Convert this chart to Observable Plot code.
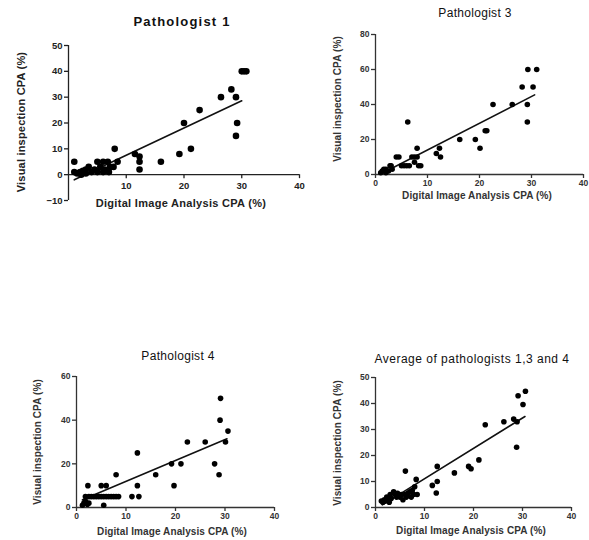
<!DOCTYPE html>
<html><head><meta charset="utf-8">
<script src="https://cdn.jsdelivr.net/npm/d3@7"></script>
<script src="https://cdn.jsdelivr.net/npm/@observablehq/plot@0.6"></script>
<style>
body{margin:0;background:#fff;}
#wrap{position:relative;width:589px;height:540px;overflow:hidden;font-family:"Liberation Sans",Arial,sans-serif;background:#fff;}
.lbl{position:absolute;white-space:nowrap;transform:translate(-50%,-50%);color:#222;font-weight:bold;}
.ylbl{transform:translate(-50%,-50%) rotate(-90deg);}
#wrap svg{position:absolute;overflow:visible;background:transparent;}
</style></head><body><div id="wrap"></div>
<script>
// ---------- Data ----------
const titles = ["Pathologist 1", "Pathologist 3", "Pathologist 4", "Average of pathologists 1,3 and 4"];
const xLabel = "Digital Image Analysis CPA (%)";
const yLabel = "Visual inspection CPA (%)";

// Pathologist 1
const p1X = [1,1,1.5,2,2.2,2.5,3,3,3.5,4,4.5,5,5,5.5,6,6,6.3,6.8,7,7.2,7.8,8,8.5,11.5,12.3,12.3,12.3,16,19.2,20,21.2,22.7,26.4,28.2,29,29.2,29,30,30.4,30.8];
const p1Y = [5,1,0.5,1,0,1.5,2,0.5,3,1,2,5,1,3,5,1,2,5,1,3,3,10,5,8,7,5,2,5,8,20,10,25,30,33,30,20,15,40,40,40];
const p1FitX = [1, 30];
const p1FitY = [-2, 28.6];
const p1XTicks = [10,20,30,40];
const p1YTicks = [-10,0,10,20,30,40,50];

// Pathologist 3
const p3X = [1,1.3,1.6,2,2,2.5,2.8,3,3.2,4,4.5,5,5.5,6,6.2,6.5,7,7.5,7.5,8,8,8.3,8.7,11.7,12.3,12.5,16.2,19.2,20.1,21.1,21.4,22.6,26.3,28.2,29.2,29.2,29.3,30.3,31];
const p3Y = [1,2,3,1,3,2,5,5,3,10,10,5,5,5,30,5,10,10,7,15,10,5,5,12,15,10,20,20,15,25,25,40,40,50,40,30,60,50,60];
const p3FitX = [1, 30.6];
const p3FitY = [0.3, 45.5];
const p3XTicks = [0,10,20,30,40];
const p3YTicks = [0,20,40,60,80];

// Pathologist 4
const p4X = [1.2,1.5,1.8,2,2.2,2.5,1.8,2.5,3,3.5,4,4.5,5,5.5,6,6.5,7,7.5,8,8.5,2.3,5,6,5.5,8,11.2,12.6,12.3,12.3,16,19.2,19.7,21.1,22.4,26,27.9,28.8,29.1,29,30.1,30.6];
const p4Y = [1,2,3,2,1.5,2,5,5,5,5,5,5,5,5,5,5,5,5,5,5,10,10,10,1,15,5,5,10,25,15,20,10,20,30,30,20,15,50,40,30,35];
const p4FitX = [1.2, 30.4];
const p4FitY = [3.5, 31.5];
const p4XTicks = [0,10,20,30,40];
const p4YTicks = [0,20,40,60];

// Average of pathologists 1, 3 and 4
const avX = [1.2,1.5,1.8,2,2.3,2.5,2.8,3,3.2,3.7,4,4.3,4.5,5,5.3,5.6,6,6.3,6.6,7,7.3,7.5,7.8,8,8.5,8.3,6.1,11.6,12.4,12.6,12.6,16.1,19,19.5,21.1,22.4,26.2,28.2,28.9,28.8,29.1,30.1,30.6];
const avY = [2.5,2,3,2.5,4,3,2,5,3.5,6,5,4,5.5,4,5,3,5,4,5.5,6,4,6.5,5,8,5,10.8,14,8.5,5.6,10,15.8,13.3,15.8,14.9,18.3,31.8,33,34,33,23.2,43,39.6,44.7];
const avFitX = [1.4, 30.5];
const avFitY = [1, 35];
const avXTicks = [0,10,20,30,40];
const avYTicks = [0,10,20,30,40,50];

// ---------- Layout ----------
const panels = [
  {title: titles[0], xs: p1X, ys: p1Y, fx: p1FitX, fy: p1FitY, xt: p1XTicks, yt: p1YTicks, yDom: [-10,50],
   left: 0, top: 0, w: 300, h: 215, mL: 68, mR: 1, mT: 45, mB: 15, r: 3.3, axisAtZero: true,
   tickFont: 9.5, color: "#222",
   titleCss: {x: 182, y: 21, size: 13, weight: "bold", ls: 1.2},
   xl: {x: 181, y: 203, size: 11, ls: 0.3}, yl: {x: 21, y: 122, size: 11, ls: 0.2}},
  {title: titles[1], xs: p3X, ys: p3Y, fx: p3FitX, fy: p3FitY, xt: p3XTicks, yt: p3YTicks, yDom: [0,80],
   left: 295, top: 0, w: 294, h: 200, mL: 80, mR: 6, mT: 34, mB: 26, r: 2.8,
   tickFont: 8.5, color: "#333",
   titleCss: {x: 475, y: 13, size: 12, weight: "normal", ls: 0.3},
   xl: {x: 477, y: 195, size: 10, ls: 0.1}, yl: {x: 337, y: 99, size: 10, ls: 0.1}},
  {title: titles[2], xs: p4X, ys: p4Y, fx: p4FitX, fy: p4FitY, xt: p4XTicks, yt: p4YTicks, yDom: [0,60],
   left: 0, top: 300, w: 295, h: 240, mL: 76, mR: 21, mT: 76, mB: 33, r: 2.8,
   tickFont: 8.5, color: "#333",
   titleCss: {x: 178, y: 356, size: 12, weight: "normal", ls: 0.3},
   xl: {x: 172, y: 531, size: 10, ls: 0.1}, yl: {x: 37, y: 442, size: 10, ls: 0.1}},
  {title: titles[3], xs: avX, ys: avY, fx: avFitX, fy: avFitY, xt: avXTicks, yt: avYTicks, yDom: [0,50],
   left: 295, top: 300, w: 294, h: 240, mL: 80, mR: 18, mT: 77, mB: 33, r: 2.8,
   tickFont: 8.5, color: "#333",
   titleCss: {x: 472, y: 359, size: 12, weight: "normal", ls: 0.5},
   xl: {x: 471, y: 530, size: 10, ls: 0.1}, yl: {x: 337, y: 443, size: 10, ls: 0.1}}
];

const wrap = document.getElementById("wrap");

function addLabel(text, c, rotate, color) {
  const d = document.createElement("div");
  d.className = "lbl" + (rotate ? " ylbl" : "");
  d.textContent = text;
  d.style.left = c.x + "px";
  d.style.top = c.y + "px";
  d.style.fontSize = c.size + "px";
  d.style.letterSpacing = (c.ls || 0) + "px";
  d.style.color = color;
  if (c.weight) d.style.fontWeight = c.weight;
  wrap.appendChild(d);
}

for (const p of panels) {
  const pts = p.xs.map((x, i) => ({x, y: p.ys[i]}));
  const fit = p.fx.map((x, i) => ({x, y: p.fy[i]}));
  const marks = [
    Plot.ruleX([0], {y1: p.yDom[0], y2: p.yDom[1], stroke: p.color, strokeWidth: 1.3}),
    Plot.axisY(p.yt, {tickSize: 4, tickPadding: 2, label: null, stroke: p.color, fill: p.color, strokeWidth: 1.3})
  ];
  if (p.axisAtZero) {
    const tickLen = (p.yDom[1] - p.yDom[0]) * 4 / (p.h - p.mT - p.mB);
    marks.push(
      Plot.ruleY([0], {x1: 0, x2: 40, stroke: p.color, strokeWidth: 1.3}),
      Plot.ruleX(p.xt, {x: d => d, y1: 0, y2: -tickLen, stroke: p.color, strokeWidth: 1.3}),
      Plot.text(p.xt, {x: d => d, y: 0, text: d => String(d), dy: 11, fill: p.color, fontSize: p.tickFont, fontWeight: "bold"})
    );
  } else {
    marks.push(
      Plot.ruleY([0], {x1: 0, x2: 40, stroke: p.color, strokeWidth: 1.3}),
      Plot.axisX(p.xt, {tickSize: 4, tickPadding: 1, label: null, stroke: p.color, fill: p.color, strokeWidth: 1.3})
    );
  }
  marks.push(
    Plot.line(fit, {x: "x", y: "y", stroke: "#111", strokeWidth: 1.6}),
    Plot.dot(pts, {x: "x", y: "y", r: p.r, fill: "#000", stroke: "none"})
  );
  const svg = Plot.plot({
    width: p.w, height: p.h,
    marginLeft: p.mL, marginRight: p.mR, marginTop: p.mT, marginBottom: p.mB,
    x: {domain: [0, 40], axis: null},
    y: {domain: p.yDom, axis: null},
    style: {fontFamily: "'Liberation Sans', Arial, sans-serif", fontSize: p.tickFont + "px", fontWeight: "bold", color: p.color, background: "transparent"},
    marks
  });
  svg.style.left = p.left + "px";
  svg.style.top = p.top + "px";
  wrap.appendChild(svg);
  addLabel(p.title, p.titleCss, false, "#111");
  addLabel(xLabel, p.xl, false, p.color);
  addLabel(yLabel, p.yl, true, p.color);
}
</script></body></html>
